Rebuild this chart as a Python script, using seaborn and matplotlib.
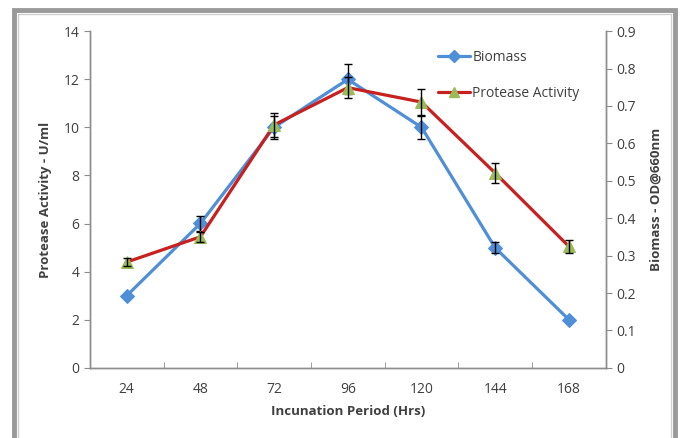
import matplotlib
matplotlib.use("Agg")
import matplotlib.pyplot as plt
import seaborn as sns
import pandas as pd
from matplotlib.lines import Line2D
from matplotlib.patches import Rectangle

sns.set_style("white")
plt.rcParams['font.family'] = ['Open Sans', 'DejaVu Sans']

hours = [24, 48, 72, 96, 120, 144, 168]
protease = [4.4, 5.45, 10.1, 11.65, 11.05, 8.1, 5.05]
protease_err = [0.15, 0.2, 0.5, 0.45, 0.55, 0.4, 0.27]
biomass = [0.193, 0.386, 0.643, 0.771, 0.643, 0.321, 0.129]
biomass_err = [0.0, 0.02, 0.03, 0.04, 0.03, 0.015, 0.0]

df = pd.DataFrame({"hours": hours, "protease": protease, "biomass": biomass})

blue = "#4F8FD8"
red = "#C8201E"
green = "#9BBB59"
grey = "#404040"

fig = plt.figure(figsize=(6.86, 4.38), dpi=100)
ax = fig.add_axes([0.131, 0.16, 0.752, 0.769])
ax2 = ax.twinx()

sns.lineplot(data=df, x="hours", y="biomass", ax=ax2, color=blue, lw=2.3,
             marker="D", markersize=7, markeredgecolor=blue, markerfacecolor=blue)
be = [(h, b, e) for h, b, e in zip(hours, biomass, biomass_err) if e > 0]
ax2.errorbar([t[0] for t in be], [t[1] for t in be], yerr=[t[2] for t in be],
             fmt="none", ecolor="black", elinewidth=1, capsize=3, capthick=1)

sns.lineplot(data=df, x="hours", y="protease", ax=ax, color=red, lw=2.3,
             marker="^", markersize=8, markeredgecolor=green, markerfacecolor=green)
ax.errorbar(hours, protease, yerr=protease_err, fmt="none", ecolor="black",
            elinewidth=1, capsize=3, capthick=1)

ax.set_zorder(ax2.get_zorder() + 1)
ax.patch.set_visible(False)

ax.set_xlim(12, 180)
ax.set_ylim(0, 14)
ax2.set_ylim(0, 0.9)
ax.set_yticks(range(0, 15, 2))
ax2.set_yticks([i / 10 for i in range(10)])
ax2.set_yticklabels(["0"] + [f"{i/10:.1f}" for i in range(1, 10)])
ax.set_xticks(hours)
ax.set_xticklabels([str(h) for h in hours])
ax.set_xticks([12 + 24 * i for i in range(8)], minor=True)

for a in (ax, ax2):
    for s in a.spines.values():
        s.set_color("#8C8C8C")
        s.set_linewidth(1)
    a.spines["top"].set_visible(False)
ax.tick_params(axis="x", which="major", length=0, pad=10, labelsize=10, colors=grey)
ax.tick_params(axis="x", which="minor", length=4, direction="in", color="#8C8C8C", bottom=True)
ax.tick_params(axis="y", length=4, direction="out", color="#8C8C8C", labelsize=10, labelcolor=grey, left=True)
ax2.tick_params(axis="y", length=4, direction="out", color="#8C8C8C", labelsize=10, labelcolor=grey, right=True)

ax.set_xlabel("Incunation Period (Hrs)", fontsize=9.5, fontweight="bold", color=grey, labelpad=6)
ax.set_ylabel("Protease Activity - U/ml", fontsize=9.5, fontweight="bold", color=grey, labelpad=8)
ax2.set_ylabel("Biomass - OD@660nm", fontsize=9.5, fontweight="bold", color=grey, labelpad=10)

handles = [
    Line2D([], [], color=blue, lw=2.3, marker="D", markersize=6, markerfacecolor=blue, markeredgecolor=blue),
    Line2D([], [], color=red, lw=2.3, marker="^", markersize=7, markerfacecolor=green, markeredgecolor=green),
]
ax.legend(handles, ["Biomass", "Protease Activity"], loc="upper left",
          bbox_to_anchor=(0.65, 0.98), frameon=False, fontsize=10,
          labelspacing=1.5, handlelength=2.3, handletextpad=0.2,
          labelcolor=grey)

fig.patches.append(Rectangle((0.02, -0.05), 0.964, 1.027, transform=fig.transFigure,
                             fill=False, edgecolor="#9A9A9A", lw=3.5))
fig.patches.append(Rectangle((0.026, -0.05), 0.952, 1.017, transform=fig.transFigure,
                             fill=False, edgecolor="#D0D0D0", lw=1))

fig.savefig("out.png", dpi=100)
